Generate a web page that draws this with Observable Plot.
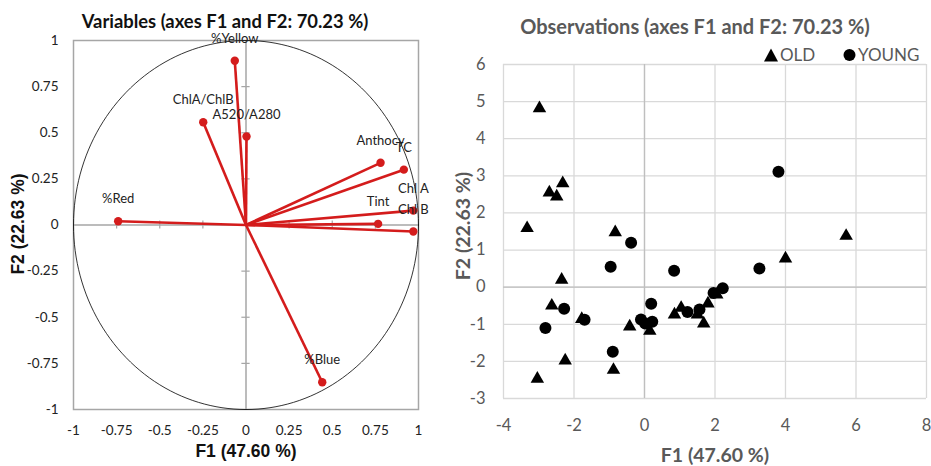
<!DOCTYPE html>
<html>
<head>
<meta charset="utf-8">
<script src="https://cdn.jsdelivr.net/npm/d3@7"></script>
<script src="https://cdn.jsdelivr.net/npm/@observablehq/plot@0.6"></script>
<style>
  html, body { margin: 0; padding: 0; background: #fff; }
  #page { position: relative; width: 931px; height: 466px; overflow: hidden; font-family: Lato, "Open Sans", sans-serif; }
  .abs { position: absolute; white-space: nowrap; line-height: 1; }
  #left, #right { position: absolute; top: 0; }
  #left { left: 0; }
  #right { left: 450px; }
  svg { overflow: visible; }
</style>
</head>
<body>
<div id="page">
  <div id="left"></div>
  <div id="right"></div>
  <div class="abs" id="tL" style="left:225px; top:21px; transform:translate(-50%,-50%); font-weight:bold; font-size:18.4px; color:#111;">Variables (axes F1 and F2: 70.23 %)</div>
  <div class="abs" id="xL" style="left:246px; top:452px; transform:translate(-50%,-50%); font-family:'Liberation Sans',Arial,sans-serif; font-weight:bold; font-size:17.5px; color:#111;">F1 (47.60 %)</div>
  <div class="abs" id="yL" style="left:19px; top:224px; transform:translate(-50%,-50%) rotate(-90deg); font-family:'Liberation Sans',Arial,sans-serif; font-weight:bold; font-size:17.5px; color:#111;">F2 (22.63 %)</div>
  <div class="abs" id="tR" style="left:695px; top:26px; transform:translate(-50%,-50%); font-weight:bold; font-size:20px; color:#595959;">Observations (axes F1 and F2: 70.23 %)</div>
  <div class="abs" id="xR" style="left:715px; top:455px; transform:translate(-50%,-50%); font-weight:bold; font-size:19.5px; color:#595959;">F1 (47.60 %)</div>
  <div class="abs" id="yR" style="left:463px; top:226px; transform:translate(-50%,-50%) rotate(-90deg); font-weight:bold; font-size:19.5px; color:#595959;">F2 (22.63 %)</div>
  <div class="abs" style="left:764px; top:54px; transform:translate(0,-50%); font-size:17px; color:#595959;">
    <svg width="14" height="13" style="vertical-align:-1px"><path d="M7,0L14,13L0,13Z" fill="#000"/></svg><span style="margin-left:2px">OLD</span>
  </div>
  <div class="abs" style="left:843px; top:54px; transform:translate(0,-50%); font-size:17px; color:#595959;">
    <svg width="13" height="13" style="vertical-align:-1px"><circle cx="6.5" cy="6.5" r="6" fill="#000"/></svg><span style="margin-left:2px">YOUNG</span>
  </div>
</div>
<script>
// ---- Variables (correlation circle) ----
const varNames = ["%Yellow", "ChlA/ChlB", "A520/A280", "Anthocy", "TC", "Chl A", "Chl B", "Tint", "%Red", "%Blue"];
const varF1 = [-0.065, -0.248, 0.003, 0.78, 0.915, 0.97, 0.97, 0.766, -0.741, 0.442];
const varF2 = [0.89, 0.557, 0.48, 0.337, 0.30, 0.078, -0.035, 0.006, 0.02, -0.852];

const circTicks = [-1, -0.75, -0.5, -0.25, 0, 0.25, 0.5, 0.75, 1];
const innerTicks = [-0.75, -0.5, -0.25, 0.25, 0.5, 0.75];

// ---- Observations ----
const oldF1 = [-2.98, -2.70, -2.49, -2.32, -3.33, -0.83, 5.72, 4.00, -2.35, -2.63, -1.78, -2.25, -3.04, -0.88, -0.42, 0.15, 0.85, 1.04, 1.50, 1.68, 1.80, 2.05];
const oldF2 = [4.82, 2.55, 2.44, 2.80, 1.59, 1.48, 1.38, 0.77, 0.20, -0.50, -0.86, -1.98, -2.47, -2.23, -1.06, -1.18, -0.74, -0.56, -0.74, -0.98, -0.44, -0.20];
const youngF1 = [3.80, -0.38, -0.96, 0.84, 3.26, -2.28, -2.81, -1.70, -0.90, 0.19, -0.10, 0.22, 0.02, 1.22, 1.56, 1.96, 2.22];
const youngF2 = [3.11, 1.20, 0.55, 0.44, 0.50, -0.58, -1.10, -0.88, -1.74, -0.45, -0.87, -0.93, -0.98, -0.67, -0.60, -0.16, -0.03];

const obsXTicks = [-4, -2, 0, 2, 4, 6, 8];
const obsYTicks = [-3, -2, -1, 0, 1, 2, 3, 4, 5, 6];

const vars = varNames.map((n, i) => ({name: n, f1: varF1[i], f2: varF2[i]}));
const olds = oldF1.map((v, i) => ({f1: v, f2: oldF2[i]}));
const youngs = youngF1.map((v, i) => ({f1: v, f2: youngF2[i]}));
const circle = d3.range(0, 361, 2).map(a => ({x: Math.cos(a * Math.PI / 180), y: Math.sin(a * Math.PI / 180)}));
const fmt = d => String(d);

const red = "#d41c1c";
const grayAxis = "#a6a6a6";

const left = Plot.plot({
  width: 450, height: 466,
  marginLeft: 73, marginRight: 32, marginTop: 40, marginBottom: 57,
  style: {fontFamily: "Lato, sans-serif", fontSize: "13.5px", color: "#222", background: "transparent"},
  x: {domain: [-1, 1], ticks: circTicks, tickFormat: fmt, tickSize: 0, tickPadding: 16, label: null},
  y: {domain: [-1, 1], ticks: circTicks, tickFormat: fmt, tickSize: 0, tickPadding: 15, label: null},
  marks: [
    Plot.frame({stroke: grayAxis, strokeWidth: 1.5}),
    Plot.ruleX([0], {stroke: grayAxis, strokeWidth: 1.5}),
    Plot.ruleY([0], {stroke: grayAxis, strokeWidth: 1.5}),
    Plot.ruleX(innerTicks, {x: d => d, y1: -0.022, y2: 0.022, stroke: grayAxis, strokeWidth: 1.2}),
    Plot.ruleY(innerTicks, {y: d => d, x1: -0.024, x2: 0.024, stroke: grayAxis, strokeWidth: 1.2}),
    Plot.line(circle, {x: "x", y: "y", stroke: "#000", strokeWidth: 0.8}),
    Plot.link(vars, {x1: d => 0, y1: d => 0, x2: "f1", y2: "f2", stroke: red, strokeWidth: 2.6}),
    Plot.dot(vars, {x: "f1", y: "f2", r: 4.2, fill: red}),
    Plot.text(vars, {x: "f1", y: "f2", text: "name", dy: -22, fontSize: 13, fill: "#222"})
  ]
});
document.getElementById("left").appendChild(left);

const right = Plot.plot({
  width: 481, height: 466,
  marginLeft: 53, marginRight: 5, marginTop: 64, marginBottom: 68,
  style: {fontFamily: "Lato, sans-serif", fontSize: "16.5px", color: "#595959", background: "transparent"},
  x: {domain: [-4, 8], ticks: obsXTicks, tickFormat: fmt, tickSize: 0, tickPadding: 21, label: null},
  y: {domain: [-3, 6], ticks: obsYTicks, tickFormat: fmt, tickSize: 0, tickPadding: 18, label: null},
  marks: [
    Plot.ruleX(obsXTicks, {stroke: "#d9d9d9", strokeWidth: 1.3}),
    Plot.ruleY(obsYTicks, {stroke: "#d9d9d9", strokeWidth: 1.3}),
    Plot.ruleX([0], {stroke: "#bfbfbf", strokeWidth: 1.3}),
    Plot.ruleY([0], {stroke: "#bfbfbf", strokeWidth: 1.3}),
    Plot.dot(olds, {x: "f1", y: "f2", symbol: "triangle", r: 5, fill: "#000"}),
    Plot.dot(youngs, {x: "f1", y: "f2", r: 6, fill: "#000"})
  ]
});
document.getElementById("right").appendChild(right);
</script>
</body>
</html>
